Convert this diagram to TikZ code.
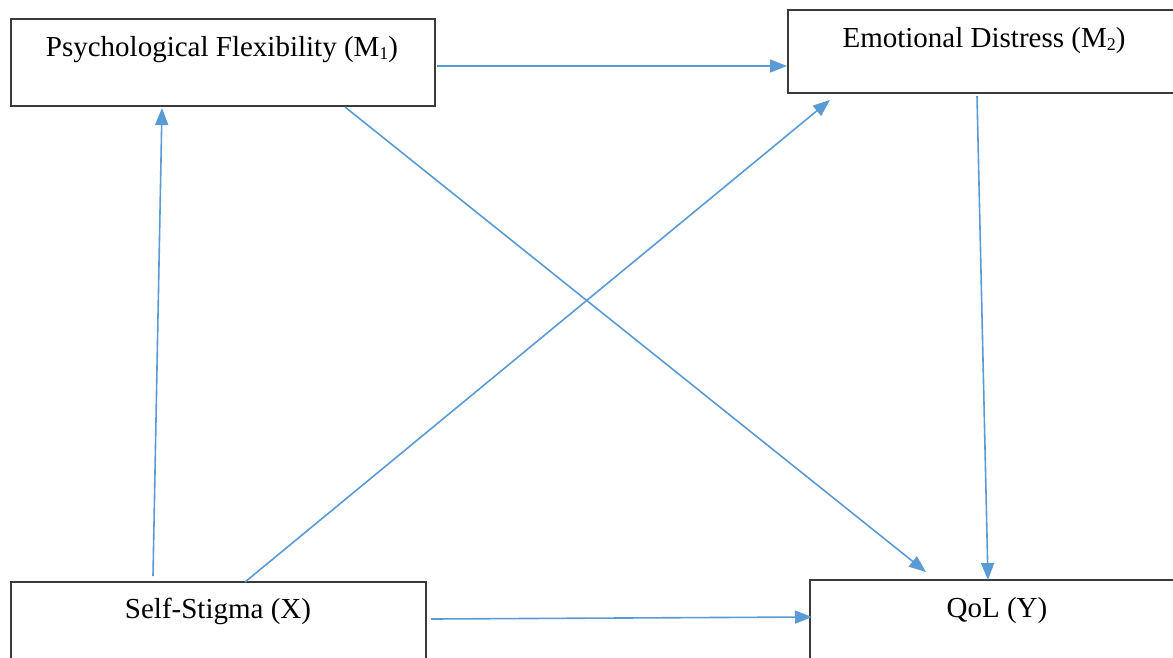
\documentclass[tikz,border=0pt]{standalone}
\usepackage{fontspec}
\setmainfont{Liberation Serif}
\usetikzlibrary{arrows.meta}
\definecolor{arrblue}{HTML}{5B9BD5}
\definecolor{boxline}{HTML}{3A3A3A}
\newcommand\mysub[1]{\raisebox{-0.12em}{\scalebox{0.62}{#1}}}
\tikzset{
  box/.style={draw=boxline, line width=1.3pt, fill=white, minimum width=#1, inner sep=0pt},
  lbl/.style={font=\fontsize{29}{32}\selectfont, anchor=base, inner sep=0pt},
  conn/.style={draw=arrblue, line width=1.6pt, -{Triangle[length=17pt,width=13pt]}}
}
\begin{document}
\begin{tikzpicture}[x=1pt,y=-1pt]
\useasboundingbox (0,0) rectangle (1173,657);
\clip (0,0) rectangle (1173,657);
\fill[white] (0,0) rectangle (1173,657);
% boxes
\node[box=424pt, minimum height=87pt] (pf) at (223,62.5) {};
\node[box=402pt, minimum height=83pt] (ed) at (989,51.5) {};
\node[box=415pt, minimum height=88pt] (ss) at (218.5,626) {};
\node[box=380pt, minimum height=90pt] (qol) at (1000,625) {};
% labels
\node[lbl] (pft) at (222,56) {Psychological Flexibility (M\mysub{1})};
\node[lbl] (edt) at (984,47) {Emotional Distress (M\mysub{2})};
\node[lbl] (sst) at (218,618) {Self-Stigma (X)};
\node[lbl] (qolt) at (997,617) {QoL (Y)};
% connector end points
\coordinate (a1) at (153,576);
\coordinate (b1) at (162,108);
\coordinate (a2) at (245,582);
\coordinate (b2) at (830,100);
\coordinate (a3) at (437,66);
\coordinate (b3) at (787,66);
\coordinate (a4) at (345,107);
\coordinate (b4) at (926,572);
\coordinate (a5) at (977,96);
\coordinate (b5) at (988,580);
\coordinate (a6) at (431,619);
\coordinate (b6) at (812,617);
% connectors
\draw[conn] (a1) -- (b1);
\draw[conn] (a2) -- (b2);
\draw[conn] (a3) -- (b3);
\draw[conn] (a4) -- (b4);
\draw[conn] (a5) -- (b5);
\draw[conn] (a6) -- (b6);
\end{tikzpicture}
\end{document}
